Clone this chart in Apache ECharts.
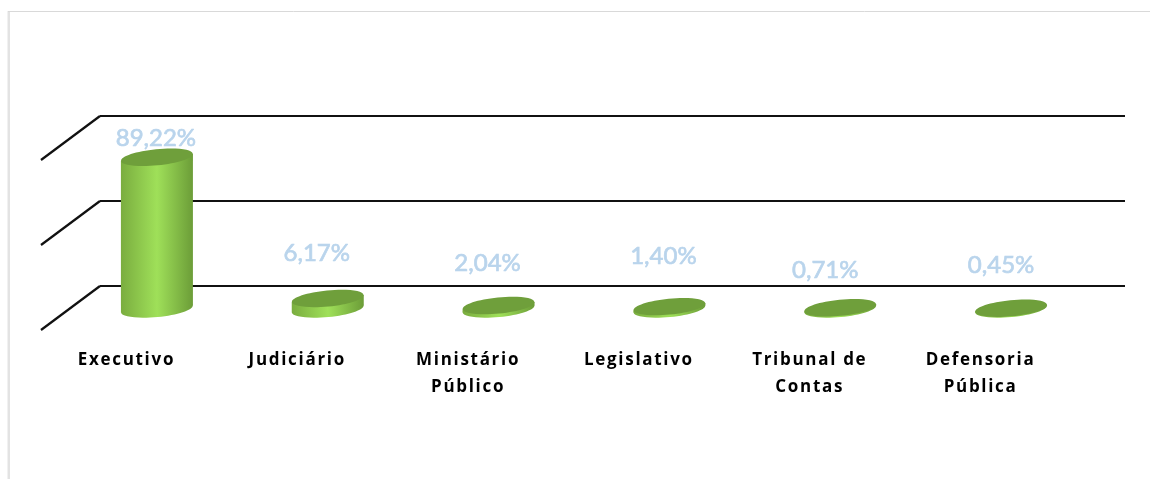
<!DOCTYPE html>
<html>
<head>
<meta charset="utf-8">
<style>
    html, body { margin: 0; padding: 0; background: #fff; }
    #chart { width: 1150px; height: 479px; }
</style>
<script src="https://cdn.jsdelivr.net/npm/echarts@6/dist/echarts.min.js"></script>
</head>
<body>
<div id="chart"></div>
<script>
// 数据
const categories = ['Executivo', 'Judiciário', 'Ministário Público', 'Legislativo', 'Tribunal de Contas', 'Defensoria Pública'];
const axisLabels = ['Executivo', 'Judiciário', 'Ministário\nPúblico', 'Legislativo', 'Tribunal de\nContas', 'Defensoria\nPública'];
const shares = [89.22, 6.17, 2.04, 1.40, 0.71, 0.45];
const tickValues = [0, 50, 100];

// 数据标签相对柱顶的偏移
const labelShiftX = [-1, -11, -11, -6, -15, -10];
const labelShiftY = [-19, -45, -42, -50, -38, -43];

// 三维深度: 后墙到前沿的位移
const DEPTH_X = -59;
const DEPTH_Y = 44;
const BAR_DX = -28.5;
const BAR_DY = 23;
const BAR_RX = 36;
const BAR_RY = 8;
const TILT = 0.1;

// 轴标签字距: ECharts 没有 letterSpacing 选项, 只对粗体文字设置
['fillText', 'strokeText'].forEach(function(name) {
    const orig = CanvasRenderingContext2D.prototype[name];
    CanvasRenderingContext2D.prototype[name] = function(text, x, y) {
        this.letterSpacing = this.font.indexOf('bold') >= 0 ? '1.7px' : '0px';
        return orig.call(this, text, x, y);
    };
});

const sideGradient = new echarts.graphic.LinearGradient(0, 0, 1, 0, [
    { offset: 0, color: '#7aad3f' },
    { offset: 0.5, color: '#9fe059' },
    { offset: 1, color: '#6c9d38' }
]);

function renderWall(params, api) {
    const v = api.value(0);
    const p = api.coord([0, v]);
    const x = p[0] - api.size([1, 0])[0] / 2;
    return {
        type: 'line',
        shape: { x1: x, y1: p[1], x2: x + DEPTH_X, y2: p[1] + DEPTH_Y },
        style: { stroke: '#111', lineWidth: 2.2 }
    };
}

function renderBar(params, api) {
    const i = api.value(0);
    const v = api.value(1);
    const top = api.coord([i, v]);
    const base = api.coord([i, 0]);
    const cx = top[0] + BAR_DX;
    const topY = top[1] + BAR_DY;
    const baseY = base[1] + BAR_DY;
    const edge = 3.6;
    return {
        type: 'group',
        children: [
            {
                type: 'ellipse',
                shape: { cx: cx, cy: baseY, rx: BAR_RX, ry: BAR_RY },
                rotation: TILT,
                originX: cx,
                originY: baseY,
                style: { fill: sideGradient }
            },
            {
                type: 'polygon',
                shape: {
                    points: [
                        [cx - BAR_RX, topY + edge],
                        [cx + BAR_RX, topY - edge],
                        [cx + BAR_RX, baseY - edge],
                        [cx - BAR_RX, baseY + edge]
                    ]
                },
                style: { fill: sideGradient }
            },
            {
                type: 'ellipse',
                shape: { cx: cx, cy: topY, rx: BAR_RX, ry: BAR_RY },
                rotation: TILT,
                originX: cx,
                originY: topY,
                style: { fill: '#6f9f3b' }
            },
            {
                type: 'text',
                z2: 10,
                style: {
                    text: shares[i].toFixed(2).replace('.', ',') + '%',
                    x: cx + labelShiftX[i],
                    y: topY + labelShiftY[i],
                    align: 'center',
                    verticalAlign: 'middle',
                    font: '24px Lato',
                    fill: '#b9d4ec',
                    stroke: '#b9d4ec',
                    lineWidth: 0.7,
                    shadowColor: 'rgba(70,110,150,0.6)',
                    shadowBlur: 1,
                    shadowOffsetX: -0.5,
                    shadowOffsetY: 0.5
                }
            }
        ]
    };
}

const chart = echarts.init(document.getElementById('chart'));

chart.setOption({
    animation: false,
    backgroundColor: '#fff',
    graphic: [
        { type: 'line', shape: { x1: 8.75, y1: 11, x2: 8.75, y2: 479 }, style: { stroke: '#e3e3e3', lineWidth: 2.5 } },
        { type: 'line', shape: { x1: 8, y1: 11.5, x2: 1150, y2: 11.5 }, style: { stroke: '#d9d9d9', lineWidth: 1 } }
    ],
    grid: [
        { left: 100, right: 25, top: 116, bottom: 193 },
        { left: 41, right: 84, top: 160, bottom: 149 }
    ],
    xAxis: [
        {
            type: 'category',
            gridIndex: 0,
            data: categories,
            axisLine: { show: false },
            axisTick: { show: false },
            axisLabel: { show: false }
        },
        {
            type: 'category',
            gridIndex: 1,
            data: axisLabels,
            axisLine: { show: false },
            axisTick: { show: false },
            axisLabel: {
                interval: 0,
                margin: 17,
                color: '#000',
                fontFamily: 'Open Sans',
                fontWeight: 'bold',
                fontSize: 17,
                lineHeight: 27
            }
        }
    ],
    yAxis: [
        {
            type: 'value',
            gridIndex: 0,
            min: 0,
            max: 100,
            interval: 50,
            axisLine: { show: false },
            axisTick: { show: false },
            axisLabel: { show: false },
            splitLine: { show: true, lineStyle: { color: '#111', width: 2 } }
        },
        {
            type: 'value',
            gridIndex: 1,
            min: 0,
            max: 100,
            show: false
        }
    ],
    series: [
        {
            type: 'custom',
            name: 'parede',
            xAxisIndex: 0,
            yAxisIndex: 0,
            renderItem: renderWall,
            data: tickValues.map(v => [v]),
            encode: { y: 0 },
            silent: true
        },
        {
            type: 'custom',
            name: 'Participação',
            xAxisIndex: 0,
            yAxisIndex: 0,
            renderItem: renderBar,
            data: shares.map((v, i) => [i, v]),
            encode: { x: 0, y: 1 },
            z: 5
        }
    ]
});
</script>
</body>
</html>
